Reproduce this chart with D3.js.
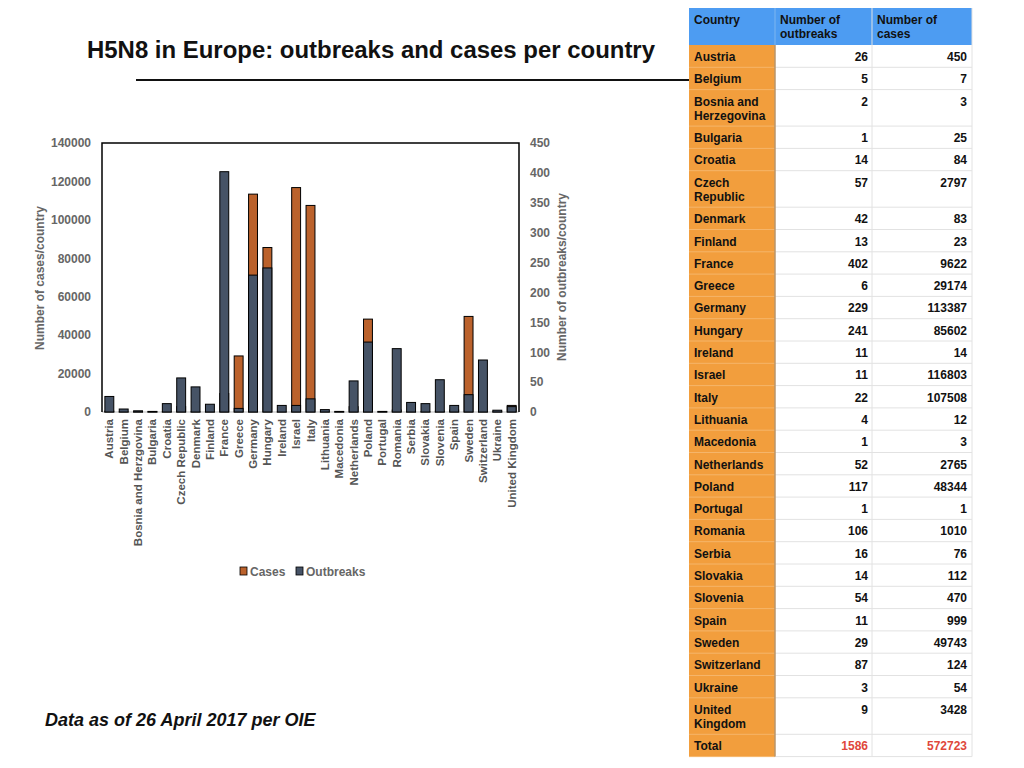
<!DOCTYPE html>
<html>
<head>
<meta charset="utf-8">
<script src="https://cdn.jsdelivr.net/npm/d3@7"></script>
<style>
  body { margin: 0; background: #fff; }
  text { font-family: "Liberation Sans", Arial, sans-serif; }
</style>
</head>
<body>
<script>
var w = 1024;
var h = 768;

// chart axis labels (spelled as on the chart)
var countries = ["Austria", "Belgium", "Bosnia and Herzgovina", "Bulgaria", "Croatia",
  "Czech Republic", "Denmark", "Finland", "France", "Greece", "Germany", "Hungary",
  "Ireland", "Israel", "Italy", "Lithuania", "Macedonia", "Netherlands", "Poland",
  "Portugal", "Romania", "Serbia", "Slovakia", "Slovenia", "Spain", "Sweden",
  "Switzerland", "Ukraine", "United Kingdom"];
// table labels (spelled as in the table)
var tableNames = ["Austria", "Belgium", "Bosnia and|Herzegovina", "Bulgaria", "Croatia",
  "Czech|Republic", "Denmark", "Finland", "France", "Greece", "Germany", "Hungary",
  "Ireland", "Israel", "Italy", "Lithuania", "Macedonia", "Netherlands", "Poland",
  "Portugal", "Romania", "Serbia", "Slovakia", "Slovenia", "Spain", "Sweden",
  "Switzerland", "Ukraine", "United|Kingdom"];
var outbreaks = [26, 5, 2, 1, 14, 57, 42, 13, 402, 6, 229, 241, 11, 11, 22, 4, 1, 52,
  117, 1, 106, 16, 14, 54, 11, 29, 87, 3, 9];
var cases = [450, 7, 3, 25, 84, 2797, 83, 23, 9622, 29174, 113387, 85602, 14, 116803,
  107508, 12, 3, 2765, 48344, 1, 1010, 76, 112, 470, 999, 49743, 124, 54, 3428];
var totalOutbreaks = 1586;
var totalCases = 572723;
var casesTicks = [0, 20000, 40000, 60000, 80000, 100000, 120000, 140000];
var outbreakTicks = [0, 50, 100, 150, 200, 250, 300, 350, 400, 450];

var orange = "#bb622c";
var slate = "#465366";
var grey = "#666666";

var svg = d3.select("body")
            .append("svg")
              .attr("width", w)
              .attr("height", h);

// title + rule
svg.append("text")
  .attr("x", 87).attr("y", 58)
  .attr("font-size", "23px").attr("font-weight", "bold")
  .attr("textLength", 568).attr("lengthAdjust", "spacingAndGlyphs")
  .attr("fill", "#111")
  .text("H5N8 in Europe: outbreaks and cases per country");

svg.append("line")
  .attr("x1", 136).attr("x2", 690).attr("y1", 80).attr("y2", 80)
  .attr("stroke", "#111").attr("stroke-width", 2);

// chart
var plot = {left: 102, right: 519, top: 143, bottom: 412};

var x = d3.scaleBand()
  .domain(countries)
  .range([plot.left, plot.right])
  .paddingInner(0.38)
  .paddingOuter(0.2);

var yCases = d3.scaleLinear().domain([0, 140000]).range([plot.bottom, plot.top]);
var yOut = d3.scaleLinear().domain([0, 450]).range([plot.bottom, plot.top]);

var rows = countries.map(function(c, i) {
  return {country: c, outbreaks: outbreaks[i], cases: cases[i]};
});

svg.append("line")
  .attr("x1", plot.left).attr("x2", plot.right)
  .attr("y1", plot.bottom).attr("y2", plot.bottom)
  .attr("stroke", "#bbb").attr("stroke-width", 1);

svg.selectAll("rect.cases")
  .data(rows)
  .enter()
  .append("rect")
    .attr("class", "cases")
    .attr("x", function(d) { return x(d.country); })
    .attr("width", x.bandwidth())
    .attr("y", function(d) { return yCases(d.cases); })
    .attr("height", function(d) { return plot.bottom - yCases(d.cases); })
    .attr("fill", orange)
    .attr("stroke", "#000").attr("stroke-width", 1);

svg.selectAll("rect.outbreaks")
  .data(rows)
  .enter()
  .append("rect")
    .attr("class", "outbreaks")
    .attr("x", function(d) { return x(d.country); })
    .attr("width", x.bandwidth())
    .attr("y", function(d) { return yOut(d.outbreaks); })
    .attr("height", function(d) { return plot.bottom - yOut(d.outbreaks); })
    .attr("fill", slate)
    .attr("stroke", "#000").attr("stroke-width", 1);

// frame: left, top, right
svg.append("path")
  .attr("d", "M" + plot.left + "," + plot.bottom + "V" + plot.top + "H" + plot.right + "V" + plot.bottom)
  .attr("fill", "none").attr("stroke", "#000").attr("stroke-width", 1.5);

var leftAxis = svg.append("g")
  .attr("transform", "translate(" + plot.left + ",0)")
  .call(d3.axisLeft(yCases).tickValues(casesTicks).tickSize(0).tickPadding(11).tickFormat(d3.format("d")));
var rightAxis = svg.append("g")
  .attr("transform", "translate(" + plot.right + ",0)")
  .call(d3.axisRight(yOut).tickValues(outbreakTicks).tickSize(0).tickPadding(11).tickFormat(d3.format("d")));
[leftAxis, rightAxis].forEach(function(a) {
  a.select(".domain").remove();
  a.selectAll("text")
    .attr("font-family", "Liberation Sans, Arial, sans-serif")
    .attr("font-size", "12px").attr("font-weight", "bold").attr("fill", grey);
});

var bottomAxis = svg.append("g")
  .attr("transform", "translate(0," + plot.bottom + ")")
  .call(d3.axisBottom(x).tickSize(0).tickPadding(0));
bottomAxis.select(".domain").remove();
bottomAxis.selectAll("text")
  .attr("font-family", "Liberation Sans, Arial, sans-serif")
  .attr("font-size", "11.5px").attr("font-weight", "bold").attr("fill", "#555")
  .attr("text-anchor", "end")
  .attr("dy", "0.35em")
  .attr("transform", "translate(0,7) rotate(-90)")
  .attr("x", 0).attr("y", 0);

svg.append("text")
  .attr("transform", "translate(44,278) rotate(-90)")
  .attr("text-anchor", "middle")
  .attr("font-size", "12px").attr("font-weight", "bold").attr("fill", grey)
  .text("Number of cases/country");

svg.append("text")
  .attr("transform", "translate(566,277) rotate(-90)")
  .attr("text-anchor", "middle")
  .attr("font-size", "12px").attr("font-weight", "bold").attr("fill", grey)
  .text("Number of outbreaks/country");

// legend
var legend = svg.selectAll("g.legend")
  .data([{name: "Cases", color: orange, x: 240}, {name: "Outbreaks", color: slate, x: 296}])
  .enter()
  .append("g")
    .attr("class", "legend")
    .attr("transform", function(d) { return "translate(" + d.x + ",567)"; });
legend.append("rect")
  .attr("width", 7).attr("height", 8)
  .attr("fill", function(d) { return d.color; })
  .attr("stroke", "#000").attr("stroke-width", 0.8);
legend.append("text")
  .attr("x", 10).attr("y", 8.5)
  .attr("font-size", "12px").attr("font-weight", "bold").attr("fill", grey)
  .text(function(d) { return d.name; });

svg.append("text")
  .attr("x", 45).attr("y", 726)
  .attr("font-size", "18px").attr("font-weight", "bold").attr("font-style", "italic")
  .attr("fill", "#111")
  .text("Data as of 26 April 2017 per OIE");

// table
var cols = [689, 775, 872, 972];
var headerTop = 8, headerBottom = 45;
var single = 22.3, dbl = 36.5;

var tableRows = tableNames.map(function(n, i) {
  return {lines: n.split("|"), a: outbreaks[i], b: cases[i], total: false};
});
tableRows.push({lines: ["Total"], a: totalOutbreaks, b: totalCases, total: true});

var yy = headerBottom;
tableRows.forEach(function(r) {
  r.y = yy;
  r.h = r.lines.length > 1 ? dbl : single;
  yy += r.h;
});
var tableBottom = yy;

var table = svg.append("g");

table.append("rect")
  .attr("x", cols[0]).attr("y", headerTop)
  .attr("width", cols[3] - cols[0]).attr("height", headerBottom - headerTop)
  .attr("fill", "#4d9cf2");
table.append("rect")
  .attr("x", cols[0]).attr("y", headerBottom)
  .attr("width", cols[1] - cols[0]).attr("height", tableBottom - headerBottom)
  .attr("fill", "#f29e3d");

// row separators: faint on orange, light grey on white
table.selectAll("line.rowo")
  .data(tableRows)
  .enter()
  .append("line")
    .attr("x1", cols[0]).attr("x2", cols[1])
    .attr("y1", function(d) { return d.y + d.h; })
    .attr("y2", function(d) { return d.y + d.h; })
    .attr("stroke", "#f5b56a").attr("stroke-width", 1);
table.selectAll("line.roww")
  .data(tableRows)
  .enter()
  .append("line")
    .attr("x1", cols[1]).attr("x2", cols[3])
    .attr("y1", function(d) { return d.y + d.h; })
    .attr("y2", function(d) { return d.y + d.h; })
    .attr("stroke", "#e2e2e2").attr("stroke-width", 1);

[cols[2], cols[3]].forEach(function(cx) {
  table.append("line")
    .attr("x1", cx).attr("x2", cx).attr("y1", headerTop).attr("y2", tableBottom)
    .attr("stroke", "#e2e2e2");
});
table.append("line")
  .attr("x1", cols[1]).attr("x2", cols[1]).attr("y1", headerBottom).attr("y2", tableBottom)
  .attr("stroke", "#b9956a").attr("stroke-width", 1.5);
table.append("line")
  .attr("x1", cols[1]).attr("x2", cols[1]).attr("y1", headerTop).attr("y2", headerBottom)
  .attr("stroke", "#7fb6f0").attr("stroke-width", 1);

var headers = [["Country"], ["Number of", "outbreaks"], ["Number of", "cases"]];
headers.forEach(function(hd, i) {
  var t = table.append("text")
    .attr("x", cols[i] + 5).attr("y", 24)
    .attr("font-size", "12px").attr("font-weight", "bold").attr("fill", "#111");
  hd.forEach(function(line, j) {
    t.append("tspan").attr("x", cols[i] + 5).attr("dy", j === 0 ? 0 : 14).text(line);
  });
});

var cells = table.selectAll("g.trow")
  .data(tableRows)
  .enter()
  .append("g")
    .attr("class", "trow")
    .attr("transform", function(d) { return "translate(0," + d.y + ")"; });

cells.append("text")
  .attr("x", cols[0] + 5).attr("y", 16)
  .attr("font-size", "12px").attr("font-weight", "bold").attr("fill", "#111")
  .each(function(d) {
    var t = d3.select(this);
    d.lines.forEach(function(line, j) {
      t.append("tspan").attr("x", cols[0] + 5).attr("dy", j === 0 ? 0 : 14).text(line);
    });
  });

cells.append("text")
  .attr("x", cols[2] - 4).attr("y", 16)
  .attr("text-anchor", "end")
  .attr("font-size", "12px").attr("font-weight", "bold")
  .attr("fill", function(d) { return d.total ? "#e0473b" : "#111"; })
  .text(function(d) { return d.a; });

cells.append("text")
  .attr("x", cols[3] - 5).attr("y", 16)
  .attr("text-anchor", "end")
  .attr("font-size", "12px").attr("font-weight", "bold")
  .attr("fill", function(d) { return d.total ? "#e0473b" : "#111"; })
  .text(function(d) { return d.b; });
</script>
</body>
</html>
